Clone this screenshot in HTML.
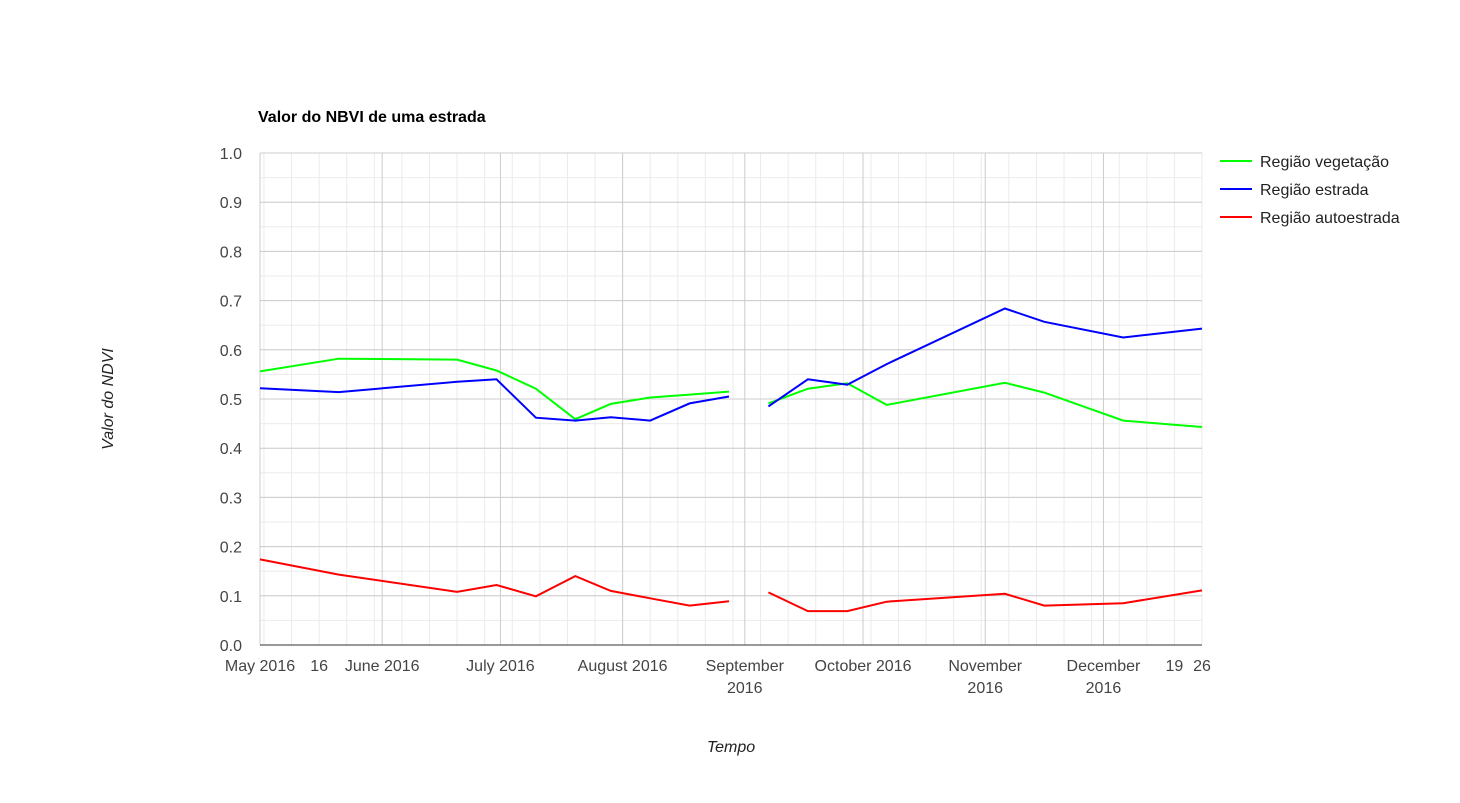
<!DOCTYPE html>
<html><head><meta charset="utf-8"><style>
body{margin:0;background:#fff;}
svg{font-family:"Liberation Sans",Arial,sans-serif;}
</style></head><body>
<svg id="chart" width="1460" height="798" viewBox="0 0 1460 798">
<text x="258" y="122" font-size="16" font-weight="bold" fill="#000">Valor do NBVI de uma estrada</text>
<g id="grid"></g><g id="lines"></g><g id="ticks"></g>
<text transform="translate(113,399) rotate(-90)" text-anchor="middle" font-size="16" font-style="italic" fill="#222">Valor do NDVI</text>
<text x="731" y="752" text-anchor="middle" font-size="16" font-style="italic" fill="#222">Tempo</text>
<g id="legend"></g>
</svg>
<script>
const dayOffsets=[0,20,50,60,70,80,89,99,109,119,124,129,139,149,159,189,199,219,239];
const vegetacao=[0.556,0.582,0.580,0.558,0.521,0.459,0.490,0.503,0.509,0.515,null,0.491,0.521,0.532,0.488,0.533,0.513,0.456,0.443];
const estrada=[0.522,0.514,0.535,0.540,0.462,0.456,0.463,0.456,0.491,0.505,null,0.485,0.540,0.529,0.571,0.684,0.657,0.625,0.643];
const autoestrada=[0.174,0.143,0.108,0.122,0.099,0.140,0.110,0.095,0.080,0.089,null,0.107,0.069,0.069,0.088,0.104,0.080,0.085,0.111];
const seriesNames=["Região vegetação","Região estrada","Região autoestrada"];
const yTicks=[0,0.1,0.2,0.3,0.4,0.5,0.6,0.7,0.8,0.9,1.0];
const monthDays=[0,31,61,92,123,153,184,214];
const monthLabels=[["May 2016"],["June 2016"],["July 2016"],["August 2016"],["September","2016"],["October 2016"],["November","2016"],["December","2016"]];
const extraTickDays=[15,232,239];
const extraTickLabels=["16","19","26"];
const X0=260,X1=1202,Y0=645,Y1=153,DMAX=239;
const x=d=>X0+(X1-X0)*d/DMAX;
const y=v=>Y0-(Y0-Y1)*v;
const NS="http://www.w3.org/2000/svg";
function mk(tag,attrs,parent){const e=document.createElementNS(NS,tag);for(const k in attrs)e.setAttribute(k,attrs[k]);parent.appendChild(e);return e;}
const grid=document.getElementById('grid'),lines=document.getElementById('lines'),ticks=document.getElementById('ticks'),legend=document.getElementById('legend');
for(let i=0;i<20;i++){const v=i*0.05+0.05;const l=mk('line',{x1:X0,x2:X1,y1:y(v),y2:y(v),stroke:'#ebebeb','stroke-width':1},grid);

}
for(let d=1;d<=DMAX;d+=7){const l=mk('line',{x1:x(d),x2:x(d),y1:Y1,y2:Y0,stroke:'#ebebeb','stroke-width':1},grid);

}
yTicks.forEach(v=>{const l=mk('line',{x1:X0,x2:X1,y1:y(v),y2:y(v),stroke:'#cccccc','stroke-width':1},grid);


const t=mk('text',{x:X0-18,y:y(v)+6,'text-anchor':'end','font-size':16,fill:'#444'},ticks);t.textContent=v.toFixed(1);

});
monthDays.forEach((d,i)=>{const l=mk('line',{x1:x(d),x2:x(d),y1:Y1,y2:Y0,stroke:'#cccccc','stroke-width':1},grid);


monthLabels[i].forEach((s,j)=>{const t=mk('text',{x:x(d),y:671+j*22,'text-anchor':'middle','font-size':16,fill:'#444'},ticks);t.textContent=s;

});});
extraTickDays.forEach((d,i)=>{const t=mk('text',{x:x(d),y:671,'text-anchor':'middle','font-size':16,fill:'#444'},ticks);t.textContent=extraTickLabels[i];

});
const series=[vegetacao,estrada,autoestrada],colors=['#00ff00','#0000ff','#ff0000'];
series.forEach((s,si)=>{let segs=[],cur=[];s.forEach((v,i)=>{if(v==null){if(cur.length)segs.push(cur);cur=[];}else cur.push(x(dayOffsets[i]).toFixed(1)+','+y(v).toFixed(1));});if(cur.length)segs.push(cur);
segs.forEach(seg=>{const p=mk('polyline',{points:seg.join(' '),fill:'none',stroke:colors[si],'stroke-width':2},lines);

});
const ly=161+si*28;
const g=mk('g',{},legend);


mk('line',{x1:1220,x2:1252,y1:ly,y2:ly,stroke:colors[si],'stroke-width':2},g);
const t=mk('text',{x:1260,y:ly+6,'font-size':16,fill:'#222'},g);t.textContent=seriesNames[si];});
mk('line',{x1:X0,x2:X1,y1:Y0,y2:Y0,stroke:'#333','stroke-width':1},grid);
</script>
</body></html>
